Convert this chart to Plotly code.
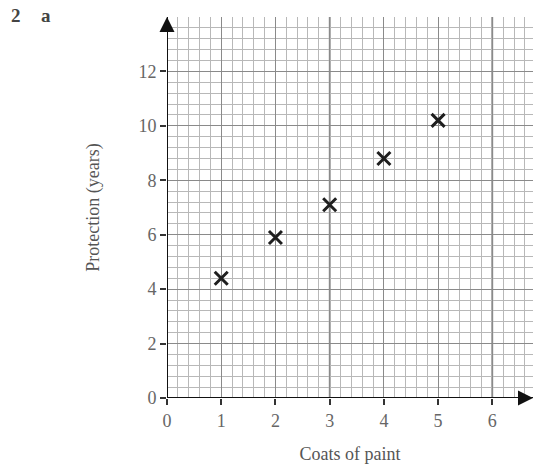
import plotly.graph_objects as go

coats = [1, 2, 3, 4, 5]
protection = [4.4, 5.9, 7.1, 8.8, 10.2]
x_ticks = [0, 1, 2, 3, 4, 5, 6]
y_ticks = [0, 2, 4, 6, 8, 10, 12]

XMAX = 6.75
YMAX = 14.0

L, R, T, B = 167, 8, 17, 72
PW = 541 - L - R
PH = 470 - T - B

fig = go.Figure()
fig.add_trace(go.Scatter(
    x=coats, y=protection, mode="markers",
    marker=dict(symbol="x-thin", size=13, line=dict(width=3, color="#1e1e1e")),
    showlegend=False, hoverinfo="skip"))

shapes = []
for xv in [3, 6]:
    shapes.append(dict(type="line", xref="x", yref="y", x0=xv, x1=xv, y0=0, y1=YMAX,
                       line=dict(color="#555555", width=1.6), layer="below"))
shapes.append(dict(type="line", xref="x", yref="y", x0=0, x1=XMAX, y0=0, y1=0,
                   line=dict(color="#111111", width=2)))
shapes.append(dict(type="line", xref="x", yref="y", x0=0, x1=0, y0=0, y1=YMAX,
                   line=dict(color="#111111", width=2)))

fig.update_layout(
    width=541, height=470,
    margin=dict(l=L, r=R, t=T, b=B, autoexpand=False),
    paper_bgcolor="white", plot_bgcolor="white",
    font=dict(family="Liberation Serif, DejaVu Serif, serif", color="#666666", size=18),
    shapes=shapes,
    xaxis=dict(range=[0, XMAX], tickvals=x_ticks, ticktext=[str(v) for v in x_ticks],
               automargin=False,
               showgrid=True, gridcolor="#8a8a8a", gridwidth=1.3,
               minor=dict(dtick=0.2, tick0=0, showgrid=True, gridcolor="#b8b8b8", gridwidth=1.3),
               ticks="outside", ticklen=6, tickwidth=1.5, tickcolor="#333333",
               showline=False, zeroline=False,
               title=dict(text="Coats of paint", standoff=17, font=dict(size=18, color="#555555"))),
    yaxis=dict(range=[0, YMAX], tickvals=y_ticks, ticktext=[str(v) for v in y_ticks],
               automargin=False,
               showgrid=True, gridcolor="#8a8a8a", gridwidth=1.3,
               minor=dict(dtick=0.4, tick0=0, showgrid=True, gridcolor="#b8b8b8", gridwidth=1.3),
               ticks="outside", ticklen=6, tickwidth=1.5, tickcolor="#333333",
               showline=False, zeroline=False,
               title=dict(text="Protection (years)", standoff=34, font=dict(size=18, color="#555555"))),
)

fig.add_annotation(x=XMAX, y=0, xref="x", yref="y", ax=-14, ay=0,
                   showarrow=True, arrowhead=2, arrowsize=1.5, arrowwidth=2, arrowcolor="#111111", text="")
fig.add_annotation(x=0, y=YMAX, xref="x", yref="y", ax=0, ay=14,
                   showarrow=True, arrowhead=2, arrowsize=1.5, arrowwidth=2, arrowcolor="#111111", text="")

def px_x(p):
    return (p - L) / PW

def px_y(p):
    return 1 - (p - T) / PH

fig.add_annotation(text="<b>2</b>", xref="paper", yref="paper", x=px_x(16), y=px_y(15),
                   xanchor="center", yanchor="middle", showarrow=False,
                   font=dict(size=19, color="#444444"))
fig.add_annotation(text="<b>a</b>", xref="paper", yref="paper", x=px_x(46), y=px_y(16),
                   xanchor="center", yanchor="middle", showarrow=False,
                   font=dict(size=19, color="#444444"))

fig.write_html("out.html", config={"displayModeBar": False},
               post_script="document.body.style.margin='0';document.body.style.overflow='hidden';")
